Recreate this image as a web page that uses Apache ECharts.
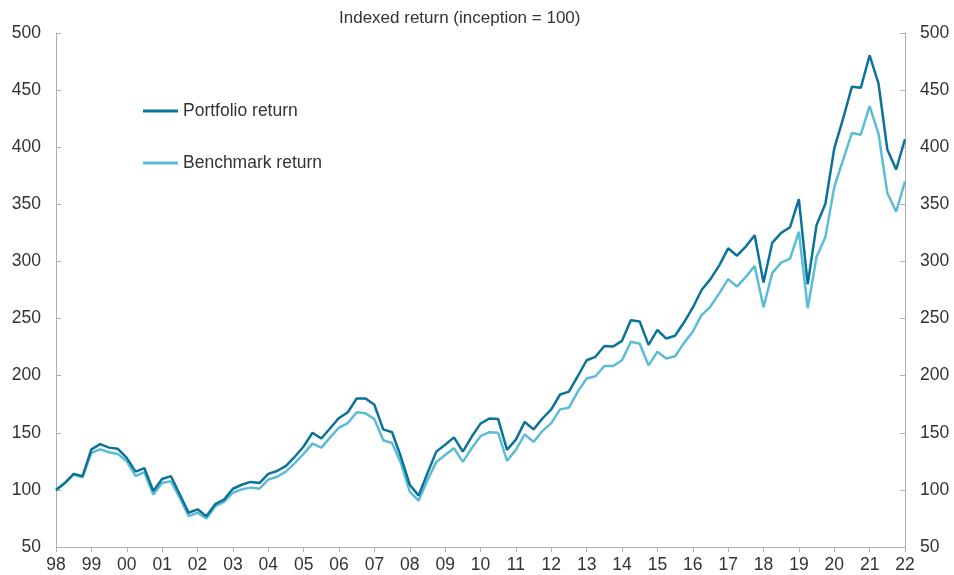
<!DOCTYPE html>
<html>
<head>
<meta charset="utf-8">
<script src="https://cdn.jsdelivr.net/npm/echarts@6/dist/echarts.min.js"></script>
<style>html,body{margin:0;padding:0;background:#fff}#c{width:954px;height:575px}</style>
</head>
<body>
<div id="c"></div>
<script>
// Quarterly categories 1998Q1 .. 2022Q1
var years = ['98','99','00','01','02','03','04','05','06','07','08','09','10','11','12','13','14','15','16','17','18','19','20','21','22'];
var quarters = [];
years.forEach(function (y, i) {
  var n = (i === years.length - 1) ? 1 : 4;
  for (var q = 1; q <= n; q++) quarters.push(y + 'Q' + q);
});
var portfolio = [100,106,114,112,135.5,140,137,136,128,116,119,99,109.5,112,96,80,
  83,77,87.5,91.5,101,104.5,107,106,114,116.5,121,129,138,150,145,154,
  163,168,180,180,174.5,153,150.5,129,104.5,95,114.5,133.5,139.5,146,133.5,146.5,
  158,162.5,162,135,144,159.5,153,162.5,170.5,183.5,186,199.5,213.5,216.5,226,225.5,
  230.5,248.5,247.5,227,240,232.5,235,246.5,259.5,275,284.5,296.5,311.5,305,313,323,
  281.5,316.5,325,330,354.5,280,332,350.5,399,425,453,452,480.5,456,398,380.5,407];
var benchmark = [100,106,113.5,111,132.5,135.5,133,131.5,125,112,115.5,96,106,107.5,93,77,
  80,75,85.5,89.5,97.5,100.5,102,101,109,111.5,116,123.5,131.5,140.5,137,146,
  154.5,158.5,168,167,162,143.5,141,123.5,98.5,90.5,108.5,124.5,130.5,136.5,124.5,136.5,
  147,150.5,150,125.5,135,148.5,142,151.5,158.5,170.5,172,186,197.5,199.5,208.5,208.5,
  213.5,229.7,228,209,221,215,217,228.5,238.5,253,260.5,272,284.5,278,286.5,296,
  260,290,299,302.5,326,259,304,321.5,365,389,412.5,411,436,412,360,343.5,370];
var yMin = 50, yMax = 500, yStep = 50;
var titleText = 'Indexed return (inception = 100)';
var names = ['Portfolio return', 'Benchmark return'];
var colors = ['#0b7399', '#5bbcd6'];

var chart = echarts.init(document.getElementById('c'), null, {renderer: 'canvas'});
var font = 'Liberation Sans, Arial, sans-serif';
var axisCol = '#b0b0b0';
var fs = 17.5;
function yAxis(pos) {
  return {
    type: 'value', position: pos, min: yMin, max: yMax, interval: yStep,
    axisLine: {show: true, lineStyle: {color: axisCol, width: 1}},
    axisTick: {show: true, inside: true, length: 5, lineStyle: {color: axisCol}},
    splitLine: {show: false},
    axisLabel: {color: '#333', fontSize: fs, fontFamily: font, margin: 15}
  };
}
chart.setOption({
  animation: false,
  title: {text: titleText, left: 339, top: 10, padding: 0,
    textStyle: {fontSize: 17, fontWeight: 'normal', color: '#333', fontFamily: font}},
  legend: {
    orient: 'vertical', left: 143, top: 102, itemGap: 34, padding: 0,
    itemWidth: 35, itemHeight: 3, icon: 'rect',
    textStyle: {fontSize: fs, color: '#333', fontFamily: font},
    data: names
  },
  grid: {left: 56, right: 49, top: 33, bottom: 28, containLabel: false},
  xAxis: {
    type: 'category', data: quarters, boundaryGap: false,
    axisLine: {show: true, lineStyle: {color: axisCol}},
    axisTick: {show: true, interval: 3, length: 5, lineStyle: {color: axisCol}},
    axisLabel: {interval: 3, color: '#333', fontSize: fs, fontFamily: font, margin: 9,
      formatter: function (v) { return v.slice(0, 2); }}
  },
  yAxis: [yAxis('left'), yAxis('right')],
  series: [
    {name: names[0], type: 'line', data: portfolio, showSymbol: false, symbol: 'none',
      lineStyle: {color: colors[0], width: 2.5}, itemStyle: {color: colors[0]}, z: 3},
    {name: names[1], type: 'line', data: benchmark, showSymbol: false, symbol: 'none',
      lineStyle: {color: colors[1], width: 2.5}, itemStyle: {color: colors[1]}, z: 2}
  ]
});
</script>
</body>
</html>
